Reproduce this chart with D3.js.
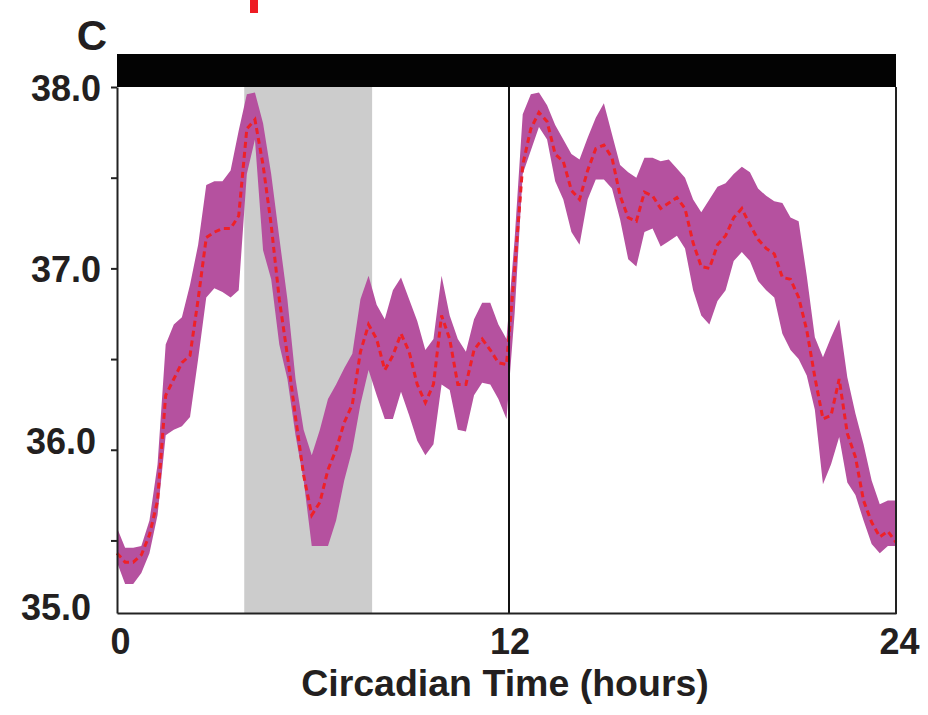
<!DOCTYPE html>
<html>
<head>
<meta charset="utf-8">
<script src="https://cdn.jsdelivr.net/npm/d3@7"></script>
<style>
  html, body { margin: 0; padding: 0; background: #fff; }
  svg { display: block; }
  text { font-family: "Liberation Sans", Arial, Helvetica, sans-serif; font-weight: bold; fill: #231f20; }
</style>
</head>
<body>
<svg id="chart" width="928" height="715"></svg>
<script>
// ---------- data ----------
const hours = [0,0.25,0.5,0.75,1,1.25,1.5,1.75,2,2.25,2.5,2.75,3,3.25,3.5,3.75,4,4.25,4.5,4.75,
  5,5.25,5.5,5.75,6,6.25,6.5,6.75,7,7.25,7.5,7.75,8,8.25,8.5,8.75,9,9.25,9.5,9.75,
  10,10.25,10.5,10.75,11,11.25,11.5,11.75,12,12.25,12.5,12.75,13,13.25,13.5,13.75,14,14.25,14.5,14.75,
  15,15.25,15.5,15.75,16,16.25,16.5,16.75,17,17.25,17.5,17.75,18,18.25,18.5,18.75,19,19.25,19.5,19.75,
  20,20.25,20.5,20.75,21,21.25,21.5,21.75,22,22.25,22.5,22.75,23,23.25,23.5,23.75,24];

const meanTemp = [35.43,35.38,35.38,35.42,35.53,35.72,36.30,36.39,36.48,36.52,36.83,37.17,37.20,37.22,37.22,37.29,37.77,37.82,37.57,37.24,
  36.83,36.52,36.18,35.86,35.64,35.71,35.89,36.00,36.15,36.25,36.54,36.69,36.61,36.44,36.52,36.64,36.54,36.36,36.26,36.36,
  36.74,36.61,36.36,36.36,36.55,36.61,36.55,36.48,36.47,36.99,37.57,37.77,37.86,37.81,37.63,37.59,37.43,37.38,37.54,37.66,
  37.68,37.61,37.40,37.28,37.26,37.42,37.40,37.33,37.36,37.39,37.33,37.14,37.01,37.00,37.13,37.18,37.28,37.33,37.24,37.16,
  37.11,37.08,36.95,36.94,36.84,36.66,36.40,36.17,36.19,36.39,36.09,35.96,35.72,35.60,35.52,35.55,35.49];

const upperTemp = [35.57,35.46,35.46,35.47,35.61,35.92,36.58,36.69,36.73,36.91,37.13,37.46,37.48,37.48,37.54,37.76,37.96,37.97,37.80,37.52,
  37.17,36.83,36.39,36.11,35.97,36.11,36.28,36.36,36.45,36.53,36.83,36.96,36.80,36.72,36.88,36.95,36.83,36.71,36.55,36.61,
  36.96,36.74,36.61,36.54,36.72,36.81,36.81,36.69,36.61,37.16,37.85,37.96,37.97,37.90,37.79,37.71,37.63,37.60,37.72,37.83,
  37.91,37.74,37.57,37.53,37.50,37.61,37.61,37.59,37.60,37.55,37.50,37.38,37.31,37.38,37.45,37.47,37.52,37.56,37.53,37.44,
  37.40,37.37,37.36,37.28,37.26,36.96,36.62,36.51,36.62,36.72,36.40,36.20,36.03,35.83,35.70,35.72,35.72];

const lowerTemp = [35.38,35.26,35.26,35.32,35.43,35.64,36.08,36.11,36.13,36.18,36.50,36.84,36.89,36.87,36.84,36.88,37.52,37.71,37.10,36.94,
  36.58,36.39,36.08,35.83,35.47,35.47,35.47,35.61,35.83,36.00,36.25,36.44,36.30,36.17,36.17,36.32,36.19,36.05,35.97,36.03,
  36.36,36.33,36.11,36.10,36.30,36.37,36.36,36.28,36.17,36.75,37.52,37.65,37.78,37.71,37.48,37.38,37.20,37.13,37.38,37.49,
  37.49,37.44,37.27,37.05,37.01,37.20,37.22,37.12,37.15,37.18,37.11,36.88,36.74,36.69,36.82,36.88,37.04,37.09,37.04,36.93,
  36.88,36.84,36.64,36.55,36.50,36.41,36.22,35.81,35.92,36.07,35.82,35.75,35.61,35.48,35.43,35.47,35.47];

const darkPhase = [0, 24];          // black bar across the top
const shadedWindow = [3.92, 7.86];  // grey shaded interval
const dividerHour = 12;
const xTickValues = [0, 12, 24];
const xTickLabels = ["0", "12", "24"];
const yTickValues = [35.5, 36, 36.5, 37, 37.5, 38];
const yLabelValues = [38, 37, 36, 35.1];
const yLabelTexts = ["38.0", "37.0", "36.0", "35.0"];
const panelLetter = "C";
const xTitle = "Circadian Time (hours)";

// ---------- layout ----------
const pLeft = 117, pRight = 896, pTop = 87, pBottom = 613;
const svg = d3.select("#chart");

const x = d3.scaleLinear().domain([0, 24]).range([pLeft, pRight]);
const y = d3.scaleLinear().domain([35.1, 38]).range([pBottom, pTop]);

const data = hours.map((h, i) => ({ h, m: meanTemp[i], u: upperTemp[i], l: lowerTemp[i] }));

// grey shaded window
svg.append("rect")
  .attr("x", x(shadedWindow[0])).attr("y", pTop)
  .attr("width", x(shadedWindow[1]) - x(shadedWindow[0]))
  .attr("height", pBottom - pTop)
  .attr("fill", "#cccccc");

// error band
svg.append("path")
  .datum(data)
  .attr("fill", "#b5519f")
  .attr("d", d3.area().x(d => x(d.h)).y0(d => y(d.l)).y1(d => y(d.u)));

// mean line (dashed red)
svg.append("path")
  .datum(data)
  .attr("fill", "none")
  .attr("stroke", "#ee2128")
  .attr("stroke-width", 3)
  .attr("stroke-dasharray", "6,4")
  .attr("d", d3.line().x(d => x(d.h)).y(d => y(d.m)));

// divider at 12 h
svg.append("line")
  .attr("x1", x(dividerHour) + 2.5).attr("x2", x(dividerHour) + 2.5)
  .attr("y1", pTop).attr("y2", pBottom)
  .attr("stroke", "#111").attr("stroke-width", 2);

// frame right
svg.append("line")
  .attr("x1", pRight).attr("x2", pRight).attr("y1", pTop).attr("y2", pBottom + 1)
  .attr("stroke", "#222").attr("stroke-width", 2);

// bottom axis
const xAxis = svg.append("g").attr("transform", `translate(0,${pBottom})`)
  .call(d3.axisBottom(x).tickValues(xTickValues).tickSize(0).tickFormat((d, i) => xTickLabels[i]));
xAxis.select(".domain").attr("stroke", "#222").attr("stroke-width", 2);
xAxis.selectAll("text")
  .attr("font-size", 36).attr("dy", 0).attr("y", 41)
  .attr("dx", 3)
  .style("font-family", "'Liberation Sans', Arial, sans-serif").style("font-weight", "bold").attr("fill", "#231f20");

// left axis
const yAxis = svg.append("g").attr("transform", `translate(${pLeft},0)`)
  .call(d3.axisLeft(y).tickValues(yTickValues).tickSize(6).tickSizeOuter(0).tickFormat(""));
yAxis.select(".domain").attr("stroke", "#222").attr("stroke-width", 2);
yAxis.selectAll(".tick line").attr("stroke", "#222").attr("stroke-width", 2);

const labelNudgeX = [101, 101, 96, 91];
const labelNudgeY = [1, 1, -8, -6];
svg.selectAll("text.ylab")
  .data(yLabelValues)
  .join("text")
  .attr("class", "ylab")
  .attr("x", (d, i) => labelNudgeX[i])
  .attr("y", (d, i) => y(d) + labelNudgeY[i])
  .attr("text-anchor", "end")
  .attr("dominant-baseline", "central")
  .attr("font-size", 36)
  .text((d, i) => yLabelTexts[i]);

// black dark-phase bar
svg.append("rect")
  .attr("x", x(darkPhase[0])).attr("y", 54)
  .attr("width", x(darkPhase[1]) - x(darkPhase[0]))
  .attr("height", pTop - 54)
  .attr("fill", "#030303");

// x-axis title
svg.append("text")
  .attr("x", 505).attr("y", 696)
  .attr("text-anchor", "middle")
  .attr("font-size", 37.5)
  .text(xTitle);

// panel letter
svg.append("text")
  .attr("x", 92).attr("y", 50)
  .attr("text-anchor", "middle")
  .attr("font-size", 42)
  .text(panelLetter);

// red marker remnant at top
svg.append("rect")
  .attr("x", 250).attr("y", 0).attr("width", 8).attr("height", 13)
  .attr("fill", "#ee1c24");
</script>
</body>
</html>
